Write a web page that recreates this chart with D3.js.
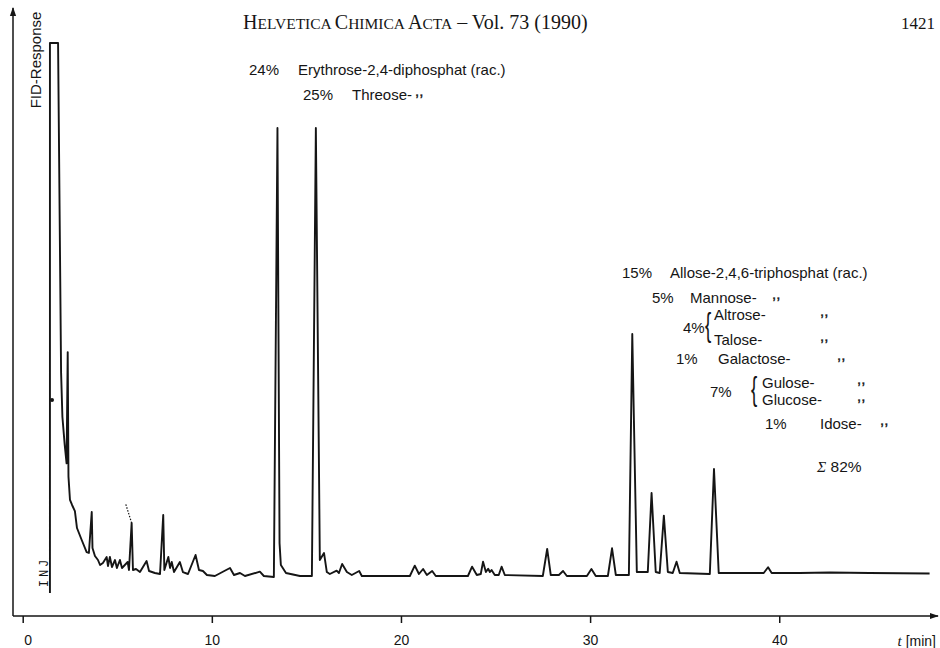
<!DOCTYPE html>
<html><head><meta charset="utf-8">
<script src="https://cdn.jsdelivr.net/npm/d3@7"></script>
<style>body{margin:0;background:#fff}svg{display:block}</style>
</head><body>
<svg id="c" width="940" height="648"></svg>
<script>
// ---------- data ----------
const xTicks = [0, 10, 20, 30, 40];
// retention time [min]
const timeMin = [1.44,1.44,1.87,2.03,2.10,2.22,2.32,2.38,2.42,2.50,2.61,2.76,2.87,3.12,3.38,3.50,3.65,3.69,3.82,3.98,4.09,4.24,4.44,4.51,4.61,4.72,4.88,4.98,5.14,5.25,5.55,5.62,5.76,5.83,5.99,6.20,6.55,6.68,6.99,7.26,7.43,7.49,7.70,7.79,7.88,8.00,8.31,8.47,8.74,9.14,9.32,9.53,9.74,10.16,10.96,11.17,11.49,11.75,12.54,12.75,13.28,13.47,13.58,13.65,13.92,14.66,15.29,15.50,15.71,15.93,16.08,16.24,16.60,16.72,16.89,17.14,17.40,17.79,17.93,20.47,20.73,20.95,21.17,21.37,21.65,21.84,23.54,23.76,24.01,24.22,24.34,24.49,24.61,24.70,24.79,24.96,25.17,25.32,25.49,27.50,27.73,27.92,28.35,28.57,28.77,29.83,30.07,30.30,30.94,31.16,31.36,32.05,32.23,32.47,33.05,33.25,33.47,33.68,33.90,34.11,34.37,34.57,34.74,36.33,36.55,36.80,39.18,39.41,39.60,41.08,42.67,44.78,47.95];
// FID response [% of full scale]
const response = [-3.38,100,100,38.0,29.70,24.5,21.0,41.9,18.5,14.10,13.16,12.0,8.83,6.58,4.32,4.14,11.84,5.08,3.57,2.82,1.88,2.26,3.38,1.69,3.38,1.50,2.82,1.32,2.82,1.32,2.44,0.94,9.77,0.94,1.13,0.56,2.63,0.75,0.38,0.19,11.28,0.94,3.38,1.32,2.44,0.56,2.44,0.56,0.19,3.76,0.94,0.75,0,-0.19,1.32,0,0.38,-0.19,0.62,-0.19,-0.38,84.02,6,1.88,0.38,-0.19,-0.19,84.02,2.82,4.14,0.56,0.19,0.81,0.38,2.07,0.56,0,0.75,-0.19,-0.19,1.75,0.19,1.13,0,0.75,-0.19,-0.19,1.56,0,0.19,2.50,0.56,1.18,0.56,0.94,0,0,1.56,0,-0.19,4.89,0,0,0.75,-0.19,-0.19,1.13,-0.19,-0.19,5.02,0,0,45.30,0.56,0.56,15.41,0.56,0.38,11.15,0.56,0.38,2.50,0.38,0.19,19.92,0.38,0.38,1.45,0.38,0.38,0.47,0.38,0.28];
// dotted continuation of the 5.8 min peak
const dottedTime = [5.76, 5.45];
const dottedResp = [9.77, 13.3];
const injTime = 1.55, injResp = 32.9;

const pctTop = ["24%", "25%"];
const namesTop = ["Erythrose-2,4-diphosphat (rac.)", "Threose-"];
const pctRight = ["15%", "5%", "4%", "1%", "7%", "1%"];
const namesRight = [["Allose-2,4,6-triphosphat (rac.)"], ["Mannose-"], ["Altrose-", "Talose-"], ["Galactose-"], ["Gulose-", "Glucose-"], ["Idose-"]];
const sumLabel = "82%";
const headerParts = [["H",1],["ELVETICA ",0],["C",1],["HIMICA ",0],["A",1],["CTA",0],[" – Vol. 73 (1990)",1]];
const pageNo = "1421";
const yLabel = "FID-Response";
const xLabelVar = "t", xLabelUnit = " [min]";

// ---------- drawing ----------
const svg = d3.select("#c");
const sans = "'Liberation Sans', Arial, Helvetica, sans-serif";
const serif = "'Liberation Serif', 'Times New Roman', serif";
const ink = "#151515";

const x = d3.scaleLinear().domain([0, 48.5]).range([22.7, 940]);
const y = d3.scaleLinear().domain([0, 100]).range([575, 43]);
const axisY = 616, axisX = 13;

// header
const hd = svg.append("text").attr("x", 243).attr("y", 29).attr("font-family", serif).attr("fill", ink);
headerParts.forEach(([t, big]) => hd.append("tspan").attr("font-size", big ? 20 : 15.5).text(t));
svg.append("text").attr("x", 935).attr("y", 29).attr("text-anchor", "end")
  .attr("font-family", serif).attr("font-size", 17).attr("fill", ink).text(pageNo);

// axes
svg.append("defs").append("marker").attr("id", "arr").attr("viewBox", "0 0 10 10")
  .attr("refX", 9).attr("refY", 5).attr("markerWidth", 9).attr("markerHeight", 9)
  .attr("markerUnits", "userSpaceOnUse").attr("orient", "auto")
  .append("path").attr("d", "M0,1.5L10,5L0,8.5Z").attr("fill", ink);

svg.append("line").attr("x1", axisX).attr("x2", 938).attr("y1", axisY).attr("y2", axisY)
  .attr("stroke", ink).attr("stroke-width", 1.5).attr("marker-end", "url(#arr)");
svg.append("line").attr("x1", axisX).attr("x2", axisX).attr("y1", axisY).attr("y2", 8)
  .attr("stroke", ink).attr("stroke-width", 1.5).attr("marker-end", "url(#arr)");

const gx = svg.append("g").attr("transform", `translate(0,${axisY})`)
  .call(d3.axisBottom(x).tickValues(xTicks).tickSize(7).tickPadding(12).tickFormat(d3.format("d")));
gx.select(".domain").remove();
gx.selectAll(".tick line").attr("stroke", ink).attr("stroke-width", 1.5);
gx.selectAll(".tick text").attr("font-family", sans).attr("font-size", 14).attr("fill", ink)
  .attr("dx", d => d === 0 ? 5 : 0);

const xl = svg.append("text").attr("x", 936).attr("y", 646).attr("text-anchor", "end")
  .attr("font-family", sans).attr("font-size", 14).attr("fill", ink);
xl.append("tspan").attr("font-style", "italic").attr("font-family", serif).attr("font-size", 15).text(xLabelVar);
xl.append("tspan").text(xLabelUnit);

svg.append("text").attr("transform", "translate(41,60) rotate(-90)").attr("text-anchor", "middle")
  .attr("font-family", sans).attr("font-size", 15).attr("fill", ink).text(yLabel);
svg.append("text").attr("transform", "translate(48,572) rotate(-90)").attr("text-anchor", "middle")
  .attr("font-family", "'Liberation Mono', monospace").attr("font-size", 12).attr("letter-spacing", 3)
  .attr("fill", ink).text("INJ");

// chromatogram trace
const pts = timeMin.map((t, i) => [t, response[i]]);
svg.append("path").datum(pts)
  .attr("d", d3.line().x(d => x(d[0])).y(d => y(d[1])))
  .attr("fill", "none").attr("stroke", ink).attr("stroke-width", 1.9).attr("stroke-linejoin", "round");
svg.append("path").datum(dottedTime.map((t, i) => [t, dottedResp[i]]))
  .attr("d", d3.line().x(d => x(d[0])).y(d => y(d[1])))
  .attr("fill", "none").attr("stroke", ink).attr("stroke-width", 1.2).attr("stroke-dasharray", "1.5,1.5");
svg.append("circle").attr("cx", x(injTime)).attr("cy", y(injResp)).attr("r", 2).attr("fill", ink);

// annotations
const fs = 15;
const ann = svg.append("g");
function txt(xp, yp, s, opts = {}) {
  return ann.append("text").attr("x", xp).attr("y", yp).attr("font-family", sans)
    .attr("font-size", opts.size || fs).attr("fill", ink).text(s);
}
function ditto(xp, yp) {
  txt(xp, yp - 4, ",,", {size: 15}).attr("stroke", ink).attr("stroke-width", 0.4);
}
function brace(xp, yc) {
  ann.append("text").attr("x", xp).attr("y", yc + 9).attr("font-family", sans)
    .attr("font-size", 34).attr("font-weight", 300).attr("fill", ink)
    .attr("transform", `translate(${xp},0) scale(0.55,1) translate(${-xp},0)`).text("{");
}

const topLayout = [{px: 249, nx: 298, y: 75}, {px: 303, nx: 352, y: 100, d: 415}];
topLayout.forEach((L, i) => {
  txt(L.px, L.y, pctTop[i]); txt(L.nx, L.y, namesTop[i]);
  if (L.d) ditto(L.d, L.y);
});

const rightLayout = [
  {px: 622, nx: 670, y: 278},
  {px: 652, nx: 690, y: 303, d: 772},
  {px: 683, nx: 714, y: 333, d: 820, b: 705, ys: [320, 345]},
  {px: 676, nx: 718, y: 364, d: 837},
  {px: 710, nx: 762, y: 397, d: 857, b: 751, ys: [388, 405]},
  {px: 765, nx: 820, y: 429, d: 880}
];
rightLayout.forEach((L, i) => {
  txt(L.px, L.y, pctRight[i]);
  const names = namesRight[i];
  if (names.length > 1) {
    brace(L.b, (L.ys[0] + L.ys[1]) / 2 - 5);
    names.forEach((n, j) => { txt(L.nx, L.ys[j], n); if (L.d) ditto(L.d, L.ys[j]); });
  } else {
    txt(L.nx, L.y, names[0]);
    if (L.d) ditto(L.d, L.y);
  }
});

const sg = ann.append("text").attr("x", 817).attr("y", 472).attr("font-family", sans).attr("font-size", 15.5).attr("fill", ink);
sg.append("tspan").attr("font-family", serif).attr("font-style", "italic").text("Σ");
sg.append("tspan").text(" " + sumLabel);
</script>
</body></html>
